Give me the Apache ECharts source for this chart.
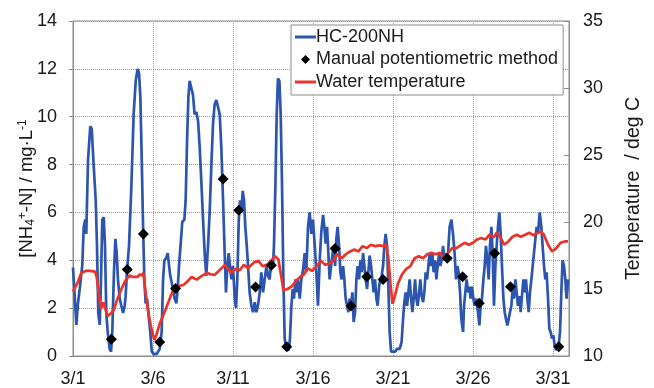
<!DOCTYPE html>
<html>
<head>
<meta charset="utf-8">
<script src="https://cdn.jsdelivr.net/npm/echarts@6/dist/echarts.min.js"></script>
<style>
  html, body { margin: 0; padding: 0; background: #fff; }
  #chart { width: 654px; height: 388px; }
</style>
</head>
<body>
<div id="chart"></div>
<script>
// Time axis: days elapsed since 3/1 00:00
const dayTicks = ['3/1', '3/6', '3/11', '3/16', '3/21', '3/26', '3/31'];

// HC-200NH continuous ammonium readings [NH4+-N] (mg/L)
const hcTime = [
  0.00, 0.21, 0.31, 0.42, 0.58, 0.67, 0.77, 0.83, 0.94, 1.08, 1.17, 1.29, 1.42, 1.50, 1.58, 1.67,
  1.75, 1.83, 1.92, 2.00, 2.08, 2.17, 2.29, 2.38, 2.46, 2.56, 2.65, 2.73, 2.81, 2.92, 3.02, 3.13,
  3.23, 3.29, 3.38, 3.50, 3.65, 3.79, 3.92, 4.04, 4.13, 4.21, 4.29, 4.38, 4.46, 4.54, 4.63, 4.71,
  4.83, 4.92, 5.04, 5.25, 5.42, 5.54, 5.63, 5.71, 5.83, 5.92, 6.00, 6.08, 6.25, 6.35, 6.46, 6.54,
  6.63, 6.73, 6.83, 6.96, 7.04, 7.13, 7.21, 7.29, 7.38, 7.50, 7.60, 7.71, 7.82, 7.92, 8.02, 8.13,
  8.23, 8.33, 8.44, 8.54, 8.65, 8.75, 8.85, 8.96, 9.06, 9.17, 9.27, 9.38, 9.48, 9.56, 9.65, 9.73,
  9.81, 9.90, 10.00, 10.11, 10.19, 10.27, 10.36, 10.44, 10.52, 10.61, 10.69, 10.77, 10.86, 10.94, 11.04, 11.15,
  11.25, 11.36, 11.46, 11.56, 11.67, 11.77, 11.88, 11.98, 12.09, 12.19, 12.29, 12.40, 12.50, 12.56, 12.65, 12.73,
  12.81, 12.90, 12.98, 13.06, 13.15, 13.23, 13.33, 13.48, 13.56, 13.65, 13.73, 13.81, 13.90, 13.98, 14.06, 14.17,
  14.27, 14.38, 14.48, 14.58, 14.69, 14.79, 14.90, 15.00, 15.11, 15.21, 15.31, 15.42, 15.52, 15.63, 15.71, 15.79,
  15.88, 15.96, 16.04, 16.13, 16.21, 16.29, 16.38, 16.46, 16.54, 16.63, 16.71, 16.79, 16.88, 16.96, 17.04, 17.13,
  17.21, 17.29, 17.38, 17.46, 17.54, 17.63, 17.71, 17.79, 17.88, 17.96, 18.04, 18.13, 18.21, 18.29, 18.38, 18.46,
  18.54, 18.63, 18.71, 18.79, 18.88, 18.96, 19.04, 19.13, 19.21, 19.29, 19.38, 19.46, 19.54, 19.63, 19.71, 19.79,
  19.88, 20.00, 20.13, 20.25, 20.42, 20.54, 20.63, 20.71, 20.79, 20.88, 20.96, 21.04, 21.13, 21.21, 21.29, 21.38,
  21.46, 21.54, 21.63, 21.71, 21.79, 21.88, 21.96, 22.04, 22.13, 22.21, 22.29, 22.38, 22.46, 22.54, 22.63, 22.71,
  22.79, 22.88, 22.96, 23.04, 23.13, 23.21, 23.29, 23.44, 23.54, 23.65, 23.75, 23.85, 23.94, 24.02, 24.10, 24.19,
  24.27, 24.38, 24.44, 24.52, 24.60, 24.69, 24.77, 24.85, 24.94, 25.02, 25.10, 25.21, 25.31, 25.40, 25.48, 25.56,
  25.65, 25.73, 25.81, 25.90, 25.98, 26.06, 26.15, 26.23, 26.31, 26.40, 26.48, 26.56, 26.65, 26.73, 26.81, 26.90,
  26.98, 27.06, 27.15, 27.23, 27.31, 27.40, 27.48, 27.56, 27.65, 27.73, 27.81, 27.90, 27.98, 28.06, 28.15, 28.23,
  28.31, 28.40, 28.48, 28.56, 28.65, 28.73, 28.81, 28.90, 28.98, 29.06, 29.17, 29.27, 29.35, 29.44, 29.52, 29.60,
  29.69, 29.77, 29.85, 29.94, 30.02, 30.10, 30.19, 30.27, 30.35, 30.44, 30.52, 30.60, 30.69, 30.77, 30.85, 30.94
];
const hcValue = [
  3.7, 1.3, 2.2, 2.8, 3.8, 5.4, 5.7, 5.1, 8.2, 9.6, 9.5, 8.0, 6.5, 4.6, 1.8, 1.3,
  3.2, 5.7, 5.8, 4.6, 1.8, 1.0, 0.3, 0.18, 1.1, 3.5, 4.9, 4.3, 3.2, 2.4, 2.1, 1.8,
  2.1, 2.5, 3.6, 4.6, 7.1, 10.1, 11.5, 12.0, 11.8, 10.8, 8.4, 5.4, 3.2, 2.2, 2.4, 1.8,
  1.0, 0.2, 0.07, 0.1, 0.3, 1.0, 3.2, 4.0, 4.1, 4.3, 3.8, 3.35, 2.8, 2.4, 2.2, 2.8,
  3.8, 4.7, 5.6, 5.7, 6.5, 9.0, 10.8, 11.5, 11.5, 10.9, 10.1, 10.2, 9.8, 8.7, 7.3, 5.7,
  4.3, 3.35, 4.6, 6.0, 8.0, 9.7, 10.5, 10.7, 10.65, 10.1, 8.7, 6.5, 4.3, 2.66, 3.76, 4.3,
  3.76, 3.2, 3.76, 2.4, 2.0, 3.2, 5.7, 6.5, 6.0, 6.9, 6.5, 5.4, 4.6, 3.76, 2.66, 2.1,
  1.83, 2.25, 1.83, 2.1, 2.66, 3.5, 2.66, 3.2, 3.76, 3.35, 3.2, 4.0, 3.76, 4.6, 7.1, 10.1,
  11.6, 11.5, 10.1, 7.3, 3.2, 0.73, 0.25, 0.25, 0.73, 2.1, 2.8, 2.4, 3.2, 2.66, 3.2, 2.4,
  3.2, 3.6, 4.3, 3.5, 5.4, 6.0, 5.1, 5.7, 4.6, 3.5, 2.1, 4.0, 5.2, 5.9, 5.4, 4.7,
  5.4, 4.3, 3.2, 3.76, 4.2, 4.6, 3.76, 4.9, 5.4, 4.6, 3.5, 3.2, 3.76, 3.2, 2.4, 2.1,
  1.83, 2.4, 2.1, 2.66, 1.42, 1.83, 3.2, 3.76, 3.2, 4.0, 3.5, 4.3, 3.76, 3.2, 2.8, 3.5,
  4.2, 3.76, 3.2, 2.66, 3.2, 2.4, 2.1, 2.9, 3.2, 3.35, 3.76, 4.6, 5.1, 4.6, 2.9, 1.0,
  0.18, 0.1, 0.18, 0.3, 0.3, 0.6, 1.55, 2.25, 2.66, 2.1, 2.66, 3.2, 2.4, 1.83, 2.4, 3.2,
  2.4, 2.1, 2.66, 3.2, 2.5, 2.25, 2.66, 3.5, 3.2, 3.76, 4.3, 3.76, 4.3, 3.5, 4.0, 3.2,
  3.76, 4.3, 3.76, 4.0, 4.6, 4.0, 4.25, 4.3, 5.4, 5.7, 5.1, 4.3, 3.2, 3.76, 3.5, 2.66,
  1.55, 1.0, 2.1, 2.66, 3.2, 2.66, 2.9, 2.4, 2.9, 2.4, 2.1, 2.4, 1.83, 1.28, 2.1, 2.4,
  3.2, 3.76, 4.6, 4.0, 3.2, 4.6, 5.4, 4.3, 2.1, 3.76, 4.6, 5.4, 6.0, 5.1, 3.76, 2.4,
  1.83, 1.55, 1.28, 1.55, 1.83, 2.1, 2.9, 2.4, 3.2, 2.66, 2.1, 2.5, 1.83, 2.5, 3.2, 2.66,
  3.2, 2.4, 1.83, 2.66, 3.2, 3.76, 4.3, 4.9, 5.4, 5.1, 6.0, 5.4, 4.6, 3.76, 3.2, 3.5,
  2.4, 1.14, 1.0, 0.73, 0.87, 0.45, 0.25, 0.18, 0.45, 1.0, 2.66, 4.0, 3.76, 3.2, 2.4, 3.2
];

// Manual potentiometric method, spot samples (mg/L)
const manualTime = [2.40, 3.39, 4.40, 5.42, 6.41, 9.38, 10.36, 11.41, 12.40, 13.36,
                    16.38, 17.37, 18.36, 19.38, 23.39, 24.35, 25.39, 26.35, 27.34, 30.36];
const manualValue = [0.70, 3.61, 5.10, 0.59, 2.82, 7.40, 6.09, 2.88, 3.79, 0.39,
                     4.49, 2.09, 3.31, 3.20, 4.08, 3.31, 2.20, 4.29, 2.89, 0.39];

// Water temperature (deg C), right axis
const tempTime = [
  0.00, 0.26, 0.52, 0.78, 1.04, 1.38, 1.48, 1.64, 1.74, 1.90, 2.00, 2.16, 2.34, 2.53, 2.73, 2.99,
  3.26, 3.52, 3.78, 4.04, 4.17, 4.30, 4.40, 4.50, 4.69, 4.87, 5.08, 5.21, 5.42, 5.68, 5.99, 6.25,
  6.51, 6.90, 7.10, 7.42, 7.73, 8.07, 8.39, 8.60, 8.85, 9.24, 9.50, 9.90, 10.16, 10.42, 10.68, 10.94,
  11.33, 11.59, 11.85, 12.11, 12.37, 12.63, 12.84, 13.02, 13.15, 13.41, 13.67, 13.93, 14.19, 14.45, 14.66, 14.92,
  15.23, 15.49, 15.76, 16.02, 16.28, 16.48, 16.80, 17.06, 17.32, 17.58, 17.84, 18.10, 18.36, 18.62, 18.88, 19.14,
  19.40, 19.58, 19.71, 19.84, 19.97, 20.10, 20.31, 20.57, 20.83, 21.09, 21.35, 21.61, 21.88, 22.14, 22.40, 22.66,
  22.92, 23.18, 23.44, 23.70, 23.96, 24.22, 24.48, 24.74, 25.00, 25.26, 25.52, 25.78, 26.04, 26.30, 26.48, 26.69,
  26.95, 27.21, 27.47, 27.73, 27.99, 28.26, 28.52, 28.78, 29.04, 29.24, 29.43, 29.69, 29.95, 30.21, 30.47, 30.73, 30.94
];
const tempValue = [
  14.8, 15.4, 16.2, 16.35, 16.35, 16.3, 15.9, 14.4, 13.5, 14.0, 13.6, 13.0, 13.15, 13.4, 14.1, 14.9,
  15.6, 16.0, 15.9, 15.9, 16.1, 16.0, 16.2, 15.1, 13.4, 12.2, 11.2, 11.55, 12.4, 13.15, 14.1, 14.9,
  15.2, 15.3, 15.5, 15.9, 15.7, 16.0, 16.2, 16.1, 16.05, 16.5, 16.8, 16.2, 16.5, 16.4, 16.8, 16.55,
  17.0, 17.1, 16.7, 16.8, 17.1, 17.45, 17.2, 15.9, 14.9, 15.0, 15.2, 15.6, 15.9, 16.1, 16.55, 16.35,
  16.7, 17.1, 16.8, 16.9, 17.1, 17.6, 17.3, 17.6, 17.8, 17.95, 17.8, 18.2, 18.05, 18.3, 18.2, 18.25,
  18.2, 18.35, 17.3, 15.4, 13.9, 14.4, 15.4, 16.1, 16.5, 16.7, 17.3, 17.45, 17.3, 17.6, 17.7, 17.6,
  17.7, 17.3, 17.7, 18.05, 18.05, 18.25, 18.45, 18.3, 18.45, 18.7, 18.8, 18.7, 19.05, 18.85, 19.2, 18.9,
  18.3, 18.55, 18.9, 19.05, 18.9, 19.05, 19.2, 19.0, 19.2, 19.3, 19.05, 18.3, 17.8, 18.05, 18.45, 18.55, 18.55
];

const zip = (xs, ys) => xs.map((x, i) => [x, ys[i]]);

const FONT = "'Liberation Sans', Arial, sans-serif";
const TEXT = '#1a1a1a';
const BLUE = '#2b55ae';
const RED = '#e8342a';
const gridLine = { show: true, lineStyle: { color: '#9a9a9a', type: [1, 1], width: 1 } };

// legend glyphs: a short stroke for the lines, a diamond for the spot samples
const LINE_ICON = 'path://M0,0H21V3H0Z';
const DIAMOND_ICON = 'path://M0,-1L1,0L0,1L-1,0Z';

const chart = echarts.init(document.getElementById('chart'));
chart.setOption({
  animation: false,
  textStyle: { fontFamily: FONT, color: TEXT },
  grid: {
    left: 73, right: 85, top: 21, bottom: 29,
    show: true, borderColor: '#8c8c8c', borderWidth: 1, backgroundColor: 'transparent'
  },
  legend: {
    orient: 'vertical',
    left: 291, top: 25,
    padding: [3, 5, 4, 4],
    itemGap: 4.5,
    itemWidth: 21, itemHeight: 9,
    backgroundColor: '#fff',
    borderColor: '#8c8c8c', borderWidth: 1, borderRadius: 0,
    textStyle: { fontFamily: FONT, fontSize: 18, lineHeight: 18, color: TEXT, padding: [0, 0, 0, -5] },
    data: [
      { name: 'HC-200NH', icon: LINE_ICON },
      { name: 'Manual potentiometric method', icon: DIAMOND_ICON },
      { name: 'Water temperature', icon: LINE_ICON }
    ]
  },
  xAxis: {
    type: 'value', min: 0, max: 31, interval: 5,
    axisLine: { show: true, lineStyle: { color: '#8c8c8c' } },
    axisTick: { show: false },
    axisLabel: {
      fontFamily: FONT, fontSize: 18, color: TEXT, margin: 14,
      showMaxLabel: false,
      formatter: v => (v % 5 === 0 && v / 5 < dayTicks.length) ? dayTicks[v / 5] : ''
    },
    splitLine: gridLine
  },
  yAxis: [
    {
      type: 'value', min: 0, max: 14, interval: 2,
      axisLine: { show: true, lineStyle: { color: '#8c8c8c' } },
      axisTick: { show: true, length: 4, lineStyle: { color: '#8c8c8c' } },
      axisLabel: { fontFamily: FONT, fontSize: 18, color: TEXT, margin: 16 },
      splitLine: gridLine,
      name: '[NH{sub|4}{sup|+}-N] / mg·L{sup|-1}',
      nameLocation: 'middle', nameRotate: 90, nameGap: 36,
      nameMoveOverlap: false,
      nameTextStyle: {
        fontFamily: FONT, fontSize: 18.5, color: TEXT,
        rich: {
          sub: { fontFamily: FONT, fontSize: 12, color: TEXT, padding: [8, 0, 0, 0] },
          sup: { fontFamily: FONT, fontSize: 12, color: TEXT, padding: [0, 0, 8, 0] }
        }
      }
    },
    {
      type: 'value', min: 10, max: 35, interval: 5, position: 'right',
      axisLine: { show: true, lineStyle: { color: '#8c8c8c' } },
      axisTick: { show: true, inside: true, length: 5, lineStyle: { color: '#8c8c8c' } },
      axisLabel: { fontFamily: FONT, fontSize: 18, color: TEXT, margin: 14 },
      splitLine: { show: false },
      name: 'Temperature  / deg C',
      nameLocation: 'middle', nameRotate: 90, nameGap: 55,
      nameTextStyle: { fontFamily: FONT, fontSize: 19.5, color: TEXT }
    }
  ],
  series: [
    {
      name: 'HC-200NH', type: 'line', yAxisIndex: 0,
      data: zip(hcTime, hcValue),
      symbol: 'none', color: BLUE,
      lineStyle: { width: 2.7, color: BLUE }, z: 2
    },
    {
      name: 'Water temperature', type: 'line', yAxisIndex: 1,
      data: zip(tempTime, tempValue),
      symbol: 'none', color: RED,
      lineStyle: { width: 2.7, color: RED }, z: 3
    },
    {
      name: 'Manual potentiometric method', type: 'scatter', yAxisIndex: 0,
      data: zip(manualTime, manualValue),
      symbol: 'diamond', symbolSize: 11, color: '#000',
      itemStyle: { color: '#000', opacity: 1 }, z: 4
    }
  ]
});
</script>
</body>
</html>
